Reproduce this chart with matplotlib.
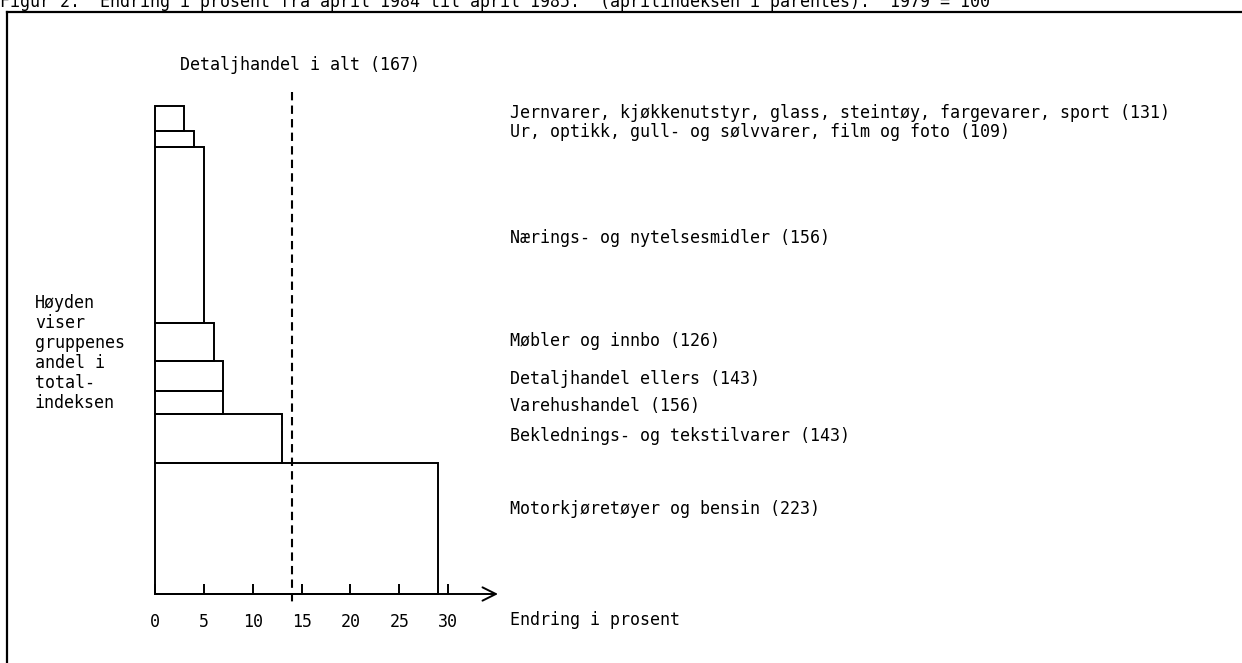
import matplotlib.pyplot as plt
import numpy as np
from matplotlib.lines import Line2D

plt.rcParams['font.family'] = ['DejaVu Sans Mono']

# data, bottom group first
groups = ['Motorkjøretøyer og bensin (223)',
          'Beklednings- og tekstilvarer (143)',
          'Varehushandel (156)',
          'Detaljhandel ellers (143)',
          'Møbler og innbo (126)',
          'Nærings- og nytelsesmidler (156)',
          'Ur, optikk, gull- og sølvvarer, film og foto (109)',
          'Jernvarer, kjøkkenutstyr, glass, steintøy, fargevarer, sport (131)']
weights = [26.8, 10.0, 4.9, 6.1, 7.8, 36.1, 3.1, 5.1]   # share of total index (height)
changes = [29, 13, 7, 7, 6, 5, 4, 3]                      # change in percent (width)
total_change = 14
total_label = 'Detaljhandel i alt (167)'
xticks = [0, 5, 10, 15, 20, 25, 30]

W, H = 1242, 663
fig = plt.figure(figsize=(W / 100, H / 100), dpi=100)

def fx(px):
    return px / W

def fy(py):
    return 1 - py / H

# header line, cut off at the top edge as in the scan
fig.text(0.0, fy(7), 'Figur 2.  Endring i prosent fra april 1984 til april 1985.  (aprilindeksen i parentes).  1979 = 100',
         fontsize=12, va='baseline', ha='left')

# frame
fig.add_artist(Line2D([fx(7), 1.0], [fy(12), fy(12)], color='black', lw=1.6))
fig.add_artist(Line2D([fx(7), fx(7)], [fy(12), 0.0], color='black', lw=1.6))

ax = fig.add_axes([fx(155), fy(594), fx(498) - fx(155), (594 - 106) / H])
ax.set_xlim(0, 35.1)
ax.set_ylim(0, 100)
for s in ax.spines.values():
    s.set_visible(False)

bottoms = np.concatenate([[0], np.cumsum(weights)[:-1]])
ax.barh(bottoms, changes, height=weights, left=0, align='edge',
        fill=False, edgecolor='black', linewidth=1.4, clip_on=False)

# x axis with arrow
ax.annotate('', xy=(35.1, 0), xytext=(0, 0),
            arrowprops=dict(arrowstyle='->', lw=1.4, mutation_scale=24,
                            shrinkA=0, shrinkB=0, color='black'),
            annotation_clip=False)
ax.set_xticks(xticks)
ax.set_yticks([])
ax.tick_params(axis='x', direction='in', length=7, width=1.4, pad=14, labelsize=12)

# total line
ax.plot([total_change, total_change], [102.9, -2.3], color='black', lw=1.5,
        linestyle=(0, (4, 2.5)), clip_on=False)
ax.text(2.6, 108.5, total_label, fontsize=12, va='center', ha='left')

# group labels to the right
nudge = [4.0, 0.5, -0.8, -0.6, 0.2, -0.6, 1.5, 1.2]
for b, w, n, g in zip(bottoms, weights, nudge, groups):
    ax.text(36.3, b + w / 2 + n, g, fontsize=12, va='center', ha='left')

ax.text(36.3, -5.3, 'Endring i prosent', fontsize=12, va='center', ha='left')

fig.text(fx(35), fy(294), 'Høyden\nviser\ngruppenes\nandel i\ntotal-\nindeksen',
         fontsize=12, va='top', ha='left', linespacing=1.15)

fig.savefig('out.png', dpi=100)
